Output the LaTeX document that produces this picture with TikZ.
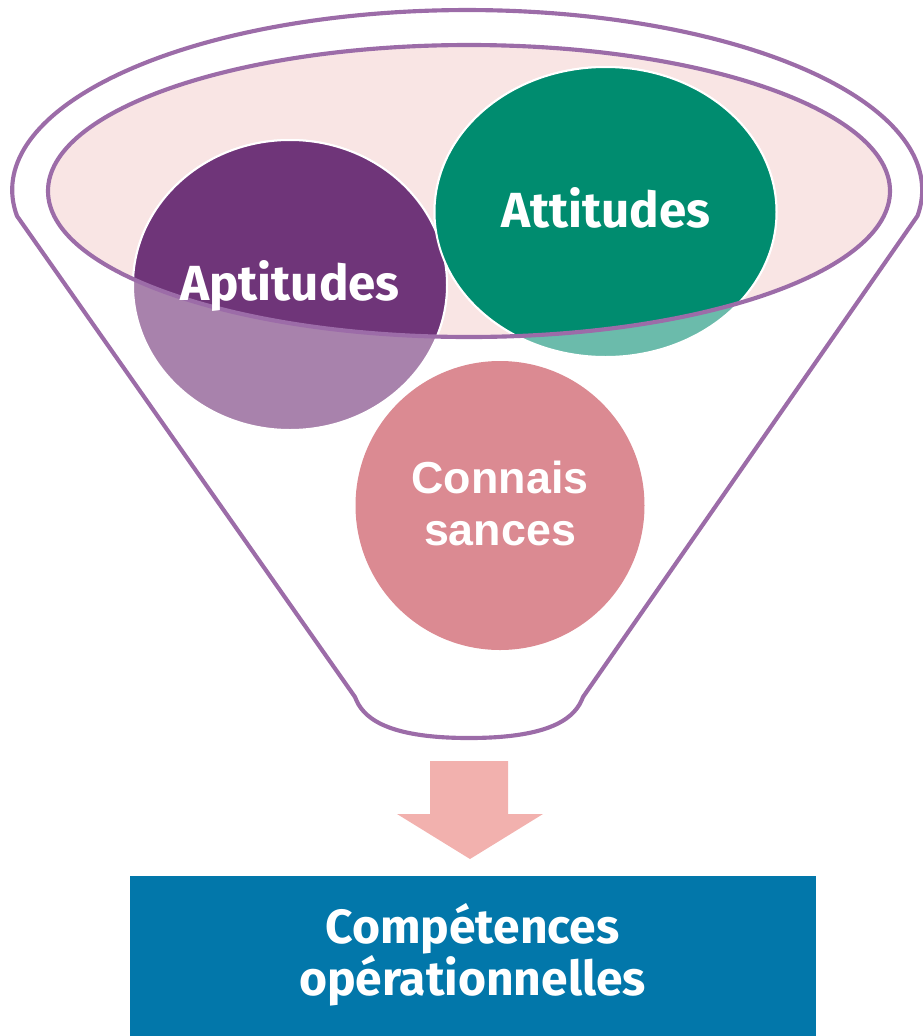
\documentclass[tikz,border=0pt]{standalone}
\usepackage{fontspec}
\newfontfamily\fira{Fira Sans}
\newfontfamily\arialf{Liberation Sans}
\definecolor{funnel}{HTML}{9C6CA8}
\definecolor{innerfill}{HTML}{F9E5E4}
\definecolor{aptdark}{HTML}{6F3579}
\definecolor{aptlight}{HTML}{A882AC}
\definecolor{attdark}{HTML}{008C6F}
\definecolor{attlight}{HTML}{6BBBAB}
\definecolor{conn}{HTML}{DB8A92}
\definecolor{arrowc}{HTML}{F2B1AE}
\definecolor{boxc}{HTML}{0277AA}
\tikzset{
  rim/.style={draw=funnel, line width=3.1pt},
  bubble/.style={draw=white, line width=1.5pt},
  firalabel/.style={text=white, font=\fira\bfseries\fontsize{37}{44}\selectfont, anchor=base, inner sep=0pt},
  connlabel/.style={text=white, font=\arialf\bfseries\fontsize{33.6}{39}\selectfont, anchor=base, inner sep=0pt},
  boxlabel/.style={text=white, font=\fira\bfseries\fontsize{36}{39}\selectfont, anchor=base, inner sep=0pt},
}
\begin{document}
\begin{tikzpicture}[x=0.75pt, y=-0.75pt]
\useasboundingbox (0,0) rectangle (922,1036);
% inner ellipse fill
\fill[innerfill] (469,191) ellipse [x radius=421, y radius=146];
% light circles
\filldraw[aptlight, bubble] (290,285) ellipse [x radius=157, y radius=145];
\filldraw[attlight, bubble] (605.5,212) ellipse [x radius=171, y radius=145];
% dark parts inside ellipse
\begin{scope}
  \clip (469,191) ellipse [x radius=421, y radius=146];
  \filldraw[aptdark, bubble] (290,285) ellipse [x radius=157, y radius=145];
  \filldraw[attdark, bubble] (605.5,212) ellipse [x radius=171, y radius=145];
\end{scope}
% inner ellipse outline
\draw[rim] (469,191) ellipse [x radius=421, y radius=146];
% funnel outline
\draw[rim, line join=round] (355,697) -- (17,216)
  arc [start angle=171.7, end angle=368.3, x radius=455, y radius=180]
  -- (583,697)
  .. controls (576,716) and (555,738) .. (469,738)
  .. controls (383,738) and (362,716) .. (355,697) -- cycle;
% knowledge circle
\fill[conn] (500,505.5) circle [radius=144.5];
% labels
\node[firalabel] (apt) at (290,300) {Aptitudes};
\node[firalabel] (att) at (606,227) {Attitudes};
\node[connlabel] (conn1) at (500,493) {Connais};
\node[connlabel] (conn2) at (500,545) {sances};
% arrow
\fill[arrowc] (430,761) -- (508,761) -- (508,814) -- (543,814) -- (470,859) -- (397,814) -- (430,814) -- cycle;
% result box
\node[fill=boxc, minimum width=514.5pt, minimum height=120pt, inner sep=0pt] (box) at (473,956) {};
\node[boxlabel] (comp1) at (472.5,943) {Compétences};
\node[boxlabel] (comp2) at (472.5,995) {opérationnelles};
\end{tikzpicture}
\end{document}
